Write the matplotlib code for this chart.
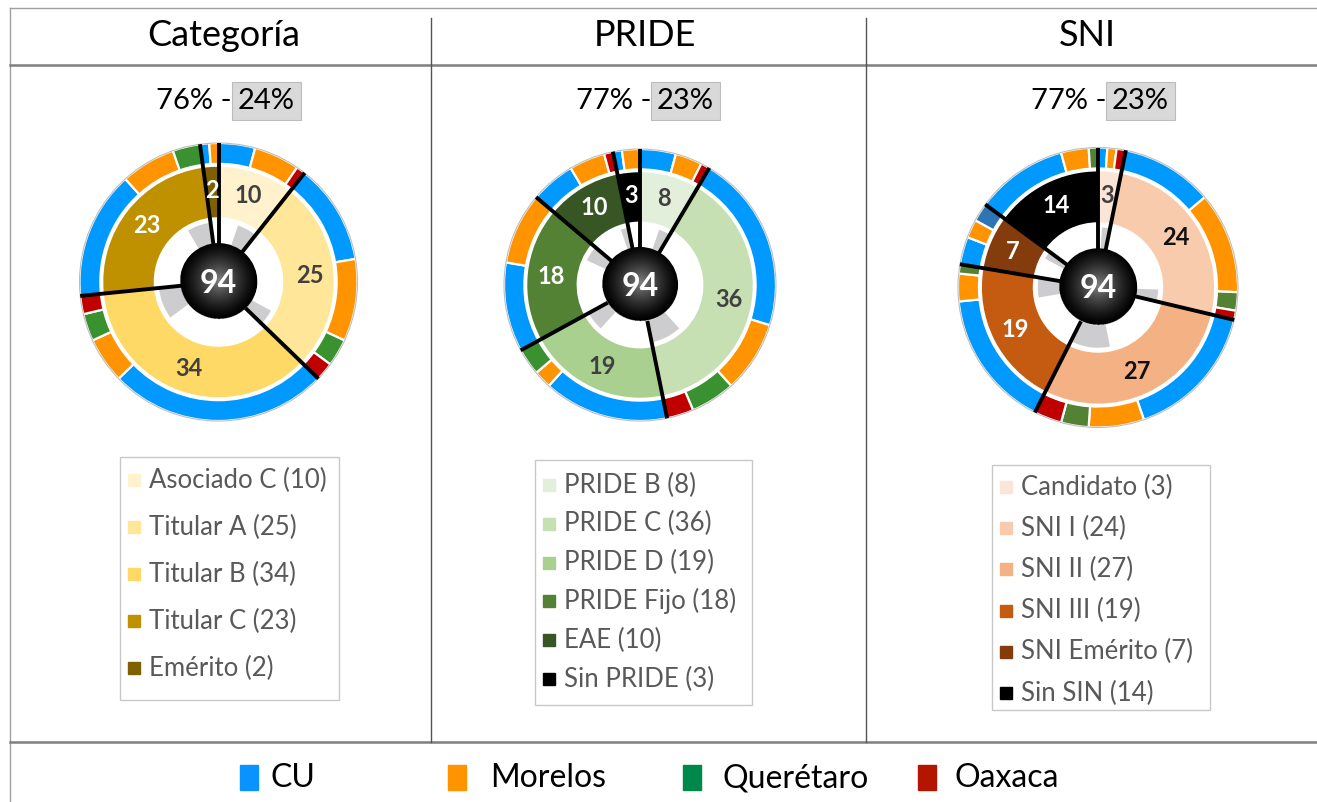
import numpy as np
import matplotlib.pyplot as plt
from matplotlib.patches import Rectangle, Circle

plt.rcParams['font.family'] = ['Lato', 'DejaVu Sans']

W, H = 1317, 802

# sedes (anillo exterior)
campus = ['CU', 'Morelos', 'Querétaro', 'Oaxaca']
campus_legend_colors = ['#0a93ff', '#ff9300', '#00884a', '#b41500']

# Categoría
cat_names = ['Asociado C', 'Titular A', 'Titular B', 'Titular C', 'Emérito']
cat_values = [10, 25, 34, 23, 2]
cat_gray = [5, 4, 8, 6, 0]
cat_campus = [[4, 5, 0, 1, 0], [11, 9, 3, 2, 0], [24, 5, 3, 2, 0],
              [14, 6, 3, 0, 0], [1, 1, 0, 0, 0]]
cat_pct = ['76%', '24%']

# PRIDE
pride_names = ['PRIDE B', 'PRIDE C', 'PRIDE D', 'PRIDE Fijo', 'EAE', 'Sin PRIDE']
pride_values = [8, 36, 19, 18, 10, 3]
pride_gray = [3, 8, 5, 4, 2, 0]
pride_campus = [[4, 3, 0, 1, 0], [20, 8, 5, 3, 0], [14, 2, 3, 0, 0],
                [10, 8, 0, 0, 0], [5, 4, 0, 1, 0], [1, 2, 0, 0, 0]]
pride_pct = ['77%', '23%']

# SNI
sni_names = ['Candidato', 'SNI I', 'SNI II', 'SNI III', 'SNI Emérito', 'Sin SIN']
sni_values = [3, 24, 27, 19, 7, 14]
sni_gray = [2, 3, 10, 5, 2, 0]
sni_campus = [[1, 1, 0, 1, 0], [10, 11, 2, 1, 0], [15, 6, 3, 3, 0],
              [15, 3, 1, 0, 0], [3, 2, 0, 0, 2], [10, 3, 1, 0, 0]]
sni_pct = ['77%', '23%']

titles = ['Categoría', 'PRIDE', 'SNI']

# colores
cat_colors = ['#fff2cc', '#ffe699', '#ffd966', '#bf9000', '#7f6000']
cat_lab = ['#404040', '#404040', '#404040', 'white', 'white']
pride_colors = ['#e2efda', '#c6e0b4', '#a9d08e', '#548235', '#375623', '#000000']
pride_lab = ['#404040', '#404040', '#404040', 'white', 'white', 'white']
sni_colors = ['#fbe5d6', '#f8cbad', '#f4b183', '#c55a11', '#843c0c', '#000000']
sni_lab = ['#404040', '#111111', '#111111', 'white', 'white', 'white']

ring_cat = ['#0099ff', '#ff9300', '#3a9130', '#c00000', '#2e75b6']
ring_sni = ['#0099ff', '#ff9300', '#548235', '#c00000', '#2e75b6']

fig = plt.figure(figsize=(W / 100, H / 100), dpi=100)
bg = fig.add_axes([0, 0, 1, 1])
bg.set_xlim(0, W)
bg.set_ylim(H, 0)
bg.axis('off')


def donut(cx, cy, R, values, colors, lab_colors, gray, campus_counts, ring_cols):
    m = 1.03
    ax = fig.add_axes([(cx - R * m) / W, (H - cy - R * m) / H, 2 * R * m / W, 2 * R * m / H])
    # anillo exterior por sede
    ov, oc = [], []
    for row in campus_counts:
        for k, n in enumerate(row):
            if n:
                ov.append(n)
                oc.append(ring_cols[k])
    ax.pie(ov, colors=oc, radius=1.0, startangle=90, counterclock=False,
           wedgeprops=dict(width=0.15, edgecolor='white', linewidth=1.6))
    # anillo de categorias
    ax.pie(values, colors=colors, radius=0.835, startangle=90, counterclock=False,
           wedgeprops=dict(width=0.375, edgecolor='white', linewidth=1.2))
    # anillo interior gris
    iv, ic = [], []
    for v, g in zip(values, gray):
        iv += [v - g, g]
        ic += ['white', '#cdcdcf']
    ax.pie(iv, colors=ic, radius=0.43, startangle=90, counterclock=False,
           wedgeprops=dict(width=0.16, linewidth=0))
    ax.add_patch(Circle((0, 0), 1.0, fill=False, ec='#bdbdbd', lw=0.8, zorder=3))

    total = sum(values)
    cum = np.cumsum([0] + values)
    for c in cum[:-1]:
        t = np.deg2rad(c / total * 360)
        ax.plot([0.27 * np.sin(t), 1.0 * np.sin(t)], [0.27 * np.cos(t), 1.0 * np.cos(t)],
                color='black', lw=2.8, solid_capstyle='butt', zorder=4)
    for v, c, lc in zip(values, cum[:-1], lab_colors):
        t = np.deg2rad((c + v / 2) / total * 360)
        ax.text(0.66 * np.sin(t), 0.66 * np.cos(t), str(v), ha='center', va='center',
                fontsize=17, fontweight='bold', color=lc, zorder=6)

    # esfera central
    yy, xx = np.mgrid[-1:1:200j, -1:1:200j]
    rr = np.sqrt(xx ** 2 + (yy + 0.05) ** 2)
    shade = np.clip(0.5 * (1 - rr) ** 1.3, 0, 1)
    ball = Circle((0, 0), 0.28, transform=ax.transData)
    img = ax.imshow(shade, cmap='gray', vmin=0, vmax=1, extent=[-0.28, 0.28, -0.28, 0.28],
                    zorder=5)
    img.set_clip_path(ball)
    ax.text(0, -0.01, str(total), ha='center', va='center', fontsize=23, fontweight='bold',
            color='white', zorder=7)
    ax.set_xlim(-m, m)
    ax.set_ylim(-m, m)
    ax.set_aspect('equal')
    ax.axis('off')


def legend_box(x0, y0, x1, y1, row0, step, names, values, colors):
    bg.add_patch(Rectangle((x0, y0), x1 - x0, y1 - y0, fill=False, ec='#c8c8c8', lw=1))
    for i, (n, v, c) in enumerate(zip(names, values, colors)):
        y = row0 + i * step
        bg.add_patch(Rectangle((x0 + 8, y - 6), 12, 12, color=c))
        bg.text(x0 + 29, y, f'{n} ({v})', ha='left', va='center', fontsize=18.5,
                color='#595959')


# marco
bg.plot([10, W], [8, 8], color='#a0a0a0', lw=1)
bg.plot([10, 10], [8, H], color='#a0a0a0', lw=1)
bg.plot([10, W], [65, 65], color='#7f7f7f', lw=1.8)
bg.plot([10, W], [742, 742], color='#7f7f7f', lw=1.8)
for x in [431, 866]:
    bg.plot([x, x], [18, 742], color='#555555', lw=1)

# titulos y porcentajes
col_x = [224, 645, 1087]
for x, t in zip(col_x, titles):
    bg.text(x, 35, t, ha='center', va='center', fontsize=26, color='black')

for (xb, pct) in zip([236, 655, 1110], [cat_pct, pride_pct, sni_pct]):
    bg.text(xb - 4, 101, pct[0] + ' -', ha='right', va='center', fontsize=21, color='black')
    bg.text(xb + 2, 101, pct[1], ha='left', va='center', fontsize=21, color='black',
            bbox=dict(boxstyle='square,pad=0.2', fc='#d9d9d9', ec='#bcbcbc', lw=0.8))

donut(218.5, 282, 139, cat_values, cat_colors, cat_lab, cat_gray, cat_campus, ring_cat)
donut(640, 285, 136, pride_values, pride_colors, pride_lab, pride_gray, pride_campus, ring_cat)
donut(1098, 287.5, 140, sni_values, sni_colors, sni_lab, sni_gray, sni_campus, ring_sni)

legend_box(120, 457, 339, 700, 480, 47, cat_names, cat_values, cat_colors)
legend_box(535, 460, 752, 705, 485, 38.8, pride_names, pride_values, pride_colors)
legend_box(992, 465, 1210, 710, 487, 41.2, sni_names, sni_values, sni_colors)

# leyenda de sedes
for x, xt, name, c in zip([240, 448, 683, 918], [271, 490, 722, 955], campus,
                          campus_legend_colors):
    bg.add_patch(Rectangle((x, 765), 18, 25, color=c))
    bg.text(xt, 778, name, ha='left', va='center', fontsize=23, color='black')

fig.savefig('out.png', dpi=100)
